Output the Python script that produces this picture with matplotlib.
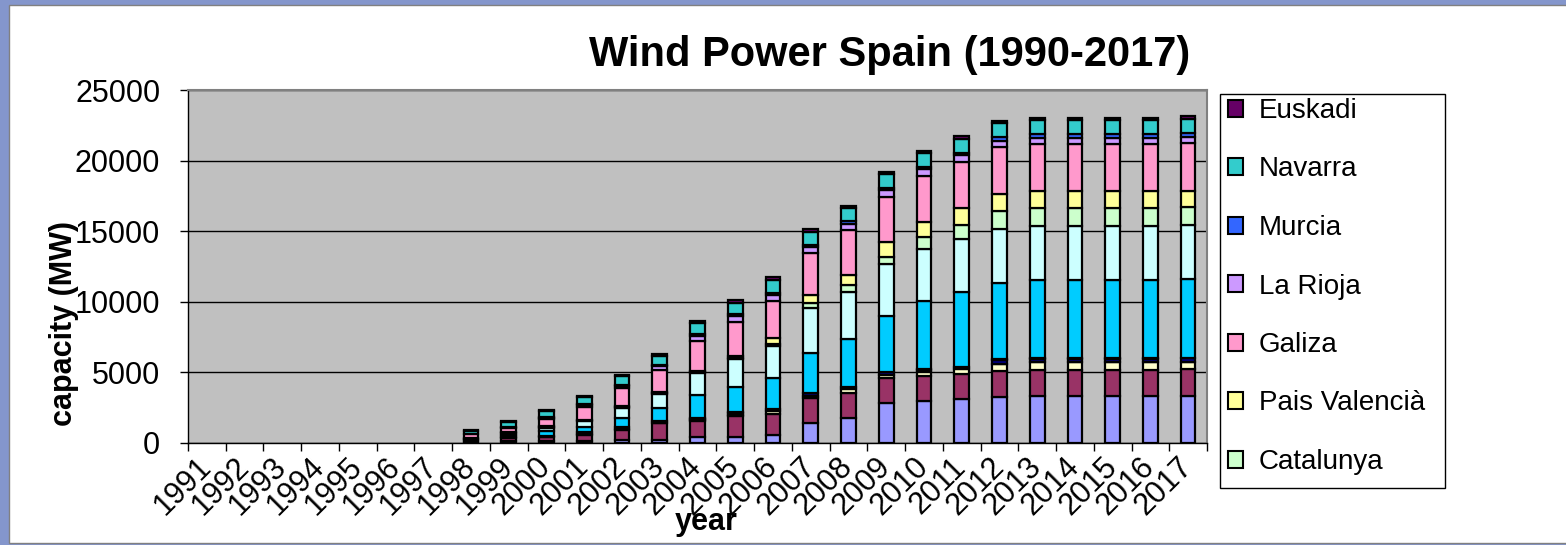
import numpy as np
import matplotlib
matplotlib.use('Agg')
import matplotlib.pyplot as plt
import matplotlib.patches as mpatches

plt.rcParams['font.family'] = ['Liberation Sans', 'DejaVu Sans']

# ── data (MW installed, 1991-2017) ──
years = list(range(1991, 2018))
Z = [0] * 7  # 1991-1997: nothing shown

andalucia = Z + [100, 130, 160, 170, 180, 230, 420, 450, 570, 1440, 1750, 2810, 2980, 3090, 3230, 3300, 3300, 3310, 3310, 3320]
aragon    = Z + [100, 230, 230, 410, 760, 1160, 1160, 1440, 1510, 1720, 1770, 1770, 1770, 1770, 1890, 1890, 1890, 1890, 1890, 1890]
asturias  = Z + [0, 0, 30, 30, 30, 30, 30, 120, 160, 200, 270, 270, 270, 350, 500, 520, 520, 520, 520, 520]
balears   = Z + [0, 0, 0, 0, 0, 0, 0, 0, 0, 0, 0, 0, 0, 0, 4, 4, 4, 4, 4, 4]
canarias  = Z + [70, 80, 90, 140, 170, 120, 120, 150, 150, 160, 160, 160, 160, 160, 266, 246, 246, 246, 246, 256]
cantabria = Z + [0, 0, 0, 0, 20, 20, 20, 40, 40, 40, 40, 40, 40, 40, 40, 40, 40, 40, 40, 40]
cyl       = Z + [40, 120, 320, 370, 630, 900, 1630, 1770, 2170, 2840, 3350, 3950, 4820, 5260, 5430, 5560, 5560, 5560, 5560, 5580]
clm       = Z + [20, 130, 250, 430, 710, 990, 1580, 1980, 2290, 3140, 3380, 3680, 3700, 3750, 3800, 3800, 3800, 3800, 3800, 3800]
catalunya = Z + [30, 40, 60, 60, 80, 80, 80, 90, 150, 400, 470, 520, 870, 1020, 1270, 1270, 1270, 1270, 1270, 1270]
valencia  = Z + [0, 20, 40, 40, 60, 70, 80, 90, 420, 540, 710, 1060, 1070, 1180, 1190, 1190, 1190, 1190, 1190, 1190]
galiza    = Z + [250, 330, 540, 920, 1250, 1580, 2130, 2450, 2600, 2950, 3180, 3190, 3250, 3300, 3310, 3330, 3330, 3330, 3330, 3350]
rioja     = Z + [0, 30, 80, 120, 160, 240, 330, 400, 420, 450, 450, 450, 450, 450, 450, 450, 450, 450, 450, 450]
murcia    = Z + [0, 0, 20, 50, 70, 110, 140, 140, 150, 150, 160, 180, 190, 190, 260, 260, 260, 260, 260, 260]
navarra   = Z + [220, 360, 430, 490, 600, 640, 780, 820, 940, 940, 950, 960, 970, 970, 990, 1000, 1000, 1000, 1000, 1040]
euskadi   = Z + [90, 90, 110, 120, 130, 140, 150, 160, 170, 170, 170, 170, 170, 180, 180, 180, 180, 180, 180, 180]

names = ['Andalucia', 'Aragon', 'Asturias', 'Balears', 'Canarias', 'Cantabria',
         'Castilla y Leon', 'Castilla-La Mancha', 'Catalunya', 'Pais Valencià',
         'Galiza', 'La Rioja', 'Murcia', 'Navarra', 'Euskadi']
series = [andalucia, aragon, asturias, balears, canarias, cantabria, cyl, clm,
          catalunya, valencia, galiza, rioja, murcia, navarra, euskadi]
colors = ['#9999FF', '#993366', '#FFFFCC', '#CCCCFF', '#000080', '#800080',
          '#00CCFF', '#CCFFFF', '#CCFFCC', '#FFFF99', '#FF99CC', '#CC99FF',
          '#3366FF', '#33CCCC', '#660066']

# ── figure / chart area ──
W, H = 1566, 545
fig = plt.figure(figsize=(W / 100, H / 100), dpi=100)
fig.patch.set_facecolor('#8496cc')
fig.patches.append(mpatches.Rectangle((9 / W, 2 / H), 1 - 9 / W + 0.01, 1 - 7 / H,
                                      transform=fig.transFigure, facecolor='white',
                                      edgecolor='#808080', linewidth=1, zorder=-5))

ax = fig.add_axes([188 / W, 102 / H, 1019 / W, 353 / H])
ax.set_facecolor('#C0C0C0')

x = np.arange(len(years))
bottom = np.zeros(len(years))
for name, vals, c in zip(names, series, colors):
    v = np.array(vals, dtype=float)
    ax.bar(x, v, width=0.39, bottom=bottom, color=c, edgecolor='black',
           linewidth=np.where(v > 0, 1.6, 0), label=name, zorder=3)
    bottom += v

ax.set_xlim(-0.5, len(years) - 0.5)
ax.set_ylim(0, 25000)
ax.set_yticks(range(0, 25001, 5000))
ax.yaxis.grid(True, color='black', linewidth=1, zorder=0)
ax.set_axisbelow(True)
ax.tick_params(axis='y', labelsize=22, length=6, width=1, pad=14, direction='out')

ax.set_xticks(x)
ax.set_xticklabels([str(y) for y in years], rotation=45, ha='right', va='center',
                   rotation_mode='anchor', fontsize=22)
ax.set_xticks(np.arange(-0.5, len(years)), minor=True)
ax.tick_params(axis='x', which='major', length=0, pad=14)
ax.tick_params(axis='x', which='minor', length=6, width=1, direction='out')

for s in ['top', 'right']:
    ax.spines[s].set_color('#808080')
    ax.spines[s].set_linewidth(1.5)
for s in ['left', 'bottom']:
    ax.spines[s].set_color('black')
    ax.spines[s].set_linewidth(1)

# ── texts ──
fig.text(890 / W, 1 - 55 / H, 'Wind Power Spain (1990-2017)', fontsize=30,
         fontweight='bold', ha='center', va='center')
fig.text(64 / W, 1 - 323 / H, 'capacity (MW)', fontsize=22, fontweight='bold',
         rotation=90, ha='center', va='center')
fig.text(706 / W, 1 - 522 / H, 'year', fontsize=22, fontweight='bold',
         ha='center', va='center')

# ── legend (top 7 series, reversed as in Excel) ──
fig.patches.append(mpatches.Rectangle((1220 / W, 1 - 488 / H), 225 / W, 394 / H,
                                      transform=fig.transFigure, facecolor='white',
                                      edgecolor='black', linewidth=1, zorder=-1))
handles = [mpatches.Patch(facecolor=colors[i], edgecolor='black', linewidth=1.5,
                          label=names[i]) for i in range(len(names) - 1, len(names) - 8, -1)]
fig.legend(handles=handles, loc='upper left', bbox_to_anchor=(1228 / W, 1 - 98 / H),
           frameon=False, fontsize=20, handlelength=0.55, handleheight=0.55,
           handletextpad=0.55, labelspacing=1.17, borderaxespad=0, borderpad=0)

fig.savefig('out.png', dpi=100, facecolor=fig.get_facecolor())
